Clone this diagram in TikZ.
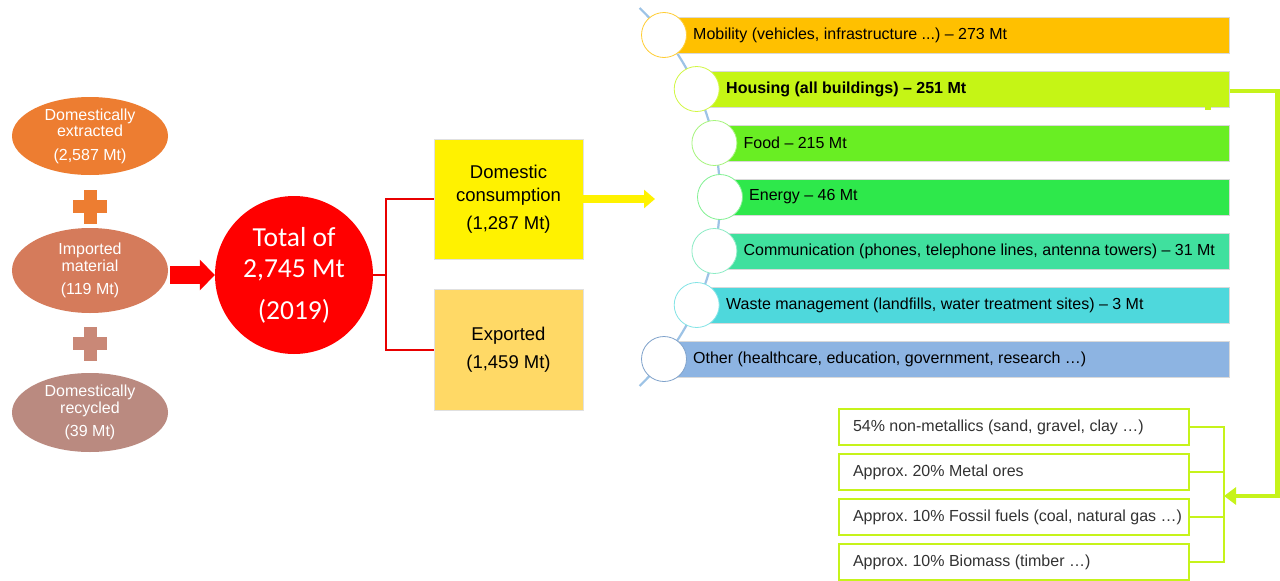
\documentclass[tikz,border=0pt]{standalone}
\usepackage{fontspec}
\setmainfont{Liberation Sans}
\newfontfamily\calibri{Carlito}
\usetikzlibrary{shapes.geometric,arrows.meta,calc}
\frenchspacing

% source colours
\definecolor{cExtract}{HTML}{ED7D31}
\definecolor{cImport}{HTML}{D57B5B}
\definecolor{cRecycle}{HTML}{BA8A80}
\definecolor{cPlusA}{HTML}{ED7D31}
\definecolor{cPlusB}{HTML}{C98877}
\definecolor{cRedLine}{HTML}{E80000}
\definecolor{cExport}{HTML}{FFD966}
% sector colours
\definecolor{cMob}{HTML}{FFC000}
\definecolor{cHouse}{HTML}{C5F515}
\definecolor{cFood}{HTML}{69EE23}
\definecolor{cEnergy}{HTML}{2EE84B}
\definecolor{cComm}{HTML}{40E09E}
\definecolor{cWaste}{HTML}{4ED8DC}
\definecolor{cOther}{HTML}{8DB4E2}
\definecolor{cArc}{HTML}{9DC3E6}
\definecolor{cLime}{HTML}{C6F31A}

% fixed-width left-aligned line inside the composition boxes
\newcommand{\boxline}[1]{\makebox[322pt][l]{#1}}

\begin{document}
\begin{tikzpicture}[x=1pt,y=-1pt,
  srcell/.style={ellipse, inner sep=0pt, minimum width=156pt, text=white,
    align=center, font=\fontsize{16}{16.5}\selectfont},
  outbox/.style={rectangle, draw=black!12, line width=0.6pt, minimum width=149pt,
    align=center, font=\fontsize{18.5}{23}\selectfont},
  redline/.style={draw=cRedLine, line width=2pt},
  bar/.style={rectangle, anchor=west, minimum height=36pt, draw=black!15,
    line width=0.6pt, inner sep=0pt},
  dot/.style={circle, minimum size=45pt, inner sep=0pt, fill=white, line width=0.8pt},
  barlabel/.style={anchor=west, inner sep=0pt, font=\fontsize{16}{16}\selectfont, text=black},
  matbox/.style={rectangle, draw=cLime, line width=1.8pt, fill=white,
    minimum width=350pt, minimum height=36pt, inner xsep=14pt,
    inner ysep=0pt, font=\fontsize{16}{16}\selectfont, text=black!80},
  gline/.style={draw=cLime, line width=1.6pt},
  garrow/.style={draw=cLime, line width=4.5pt, line join=miter,
    -{Triangle[length=12pt,width=17pt]}},
  arcline/.style={draw=cArc, line width=2.2pt}
]
\useasboundingbox (0,0) rectangle (1280,581);
\fill[white] (0,0) rectangle (1280,581);

% ---- material sources ----
\node[srcell, fill=cExtract, minimum height=78pt] (ext) at (90,136)
  {Domestically\\extracted\\[7pt](2,587 Mt)};
\node[srcell, fill=cImport, minimum height=85pt] (imp) at (90,270.5)
  {Imported\\material\\[7pt](119 Mt)};
\node[srcell, fill=cRecycle, minimum height=79pt] (rec) at (90,412.5)
  {Domestically\\recycled\\[7pt](39 Mt)};

% plus signs between the sources
\fill[cPlusA] (90,206.5) +(-17,-6.5) rectangle +(17,6.5);
\fill[cPlusA] (90,206.5) +(-6.5,-17) rectangle +(6.5,17);
\fill[cPlusB] (90,343.5) +(-17,-6.5) rectangle +(17,6.5);
\fill[cPlusB] (90,343.5) +(-6.5,-17) rectangle +(6.5,17);

% ---- total ----
\node[circle, fill=red, minimum size=158pt, inner sep=0pt, text=white, align=center,
  font=\calibri\fontsize{27.5}{31}\selectfont] (total) at (294,275)
  {Total of\\2,745 Mt\\[11pt](2019)};

\draw[red, line width=18pt, -{Triangle[length=15pt,width=30pt]}]
  ([xshift=2pt]imp.east |- total.west) -- (total.west);

% ---- split ----
\node[outbox, fill=yellow, minimum height=120pt] (dom) at (508.5,199)
  {Domestic\\consumption\\[5pt](1,287 Mt)};
\node[outbox, fill=cExport, minimum height=121pt] (exp) at (508.5,349.5)
  {Exported\\[5pt](1,459 Mt)};

\draw[redline] (total.east) -- ++(13,0) coordinate (rj) |- (dom.west);
\draw[redline] (rj) |- (exp.west);

\coordinate (ytip) at (655,199);
\draw[yellow, line width=8pt, -{Triangle[length=11pt,width=18pt]}] (dom.east) -- (ytip);

% ---- sectors ----
\coordinate (ac) at (457.7,197);
\draw[arcline] ([shift={(46.1:262.3pt)}]ac) arc[start angle=46.1, end angle=-46.1, radius=262.3pt];

\node[bar, fill=cMob, minimum width=565pt] (bar1) at (664,35) {};
\node[bar, fill=cHouse, minimum width=532.3pt] (bar2) at (696.7,89) {};
\node[bar, fill=cFood, minimum width=514.6pt] (bar3) at (714.4,143) {};
\node[bar, fill=cEnergy, minimum width=509pt] (bar4) at (720,197) {};
\node[bar, fill=cComm, minimum width=514.6pt] (bar5) at (714.4,251) {};
\node[bar, fill=cWaste, minimum width=532.3pt] (bar6) at (696.7,305) {};
\node[bar, fill=cOther, minimum width=565pt] (bar7) at (664,359) {};

\node[dot, draw=cMob!80!white] (dot1) at (664,35) {};
\node[dot, draw=cHouse!80!white] (dot2) at (696.7,89) {};
\node[dot, draw=cFood!60!white] (dot3) at (714.4,143) {};
\node[dot, draw=cEnergy!60!white] (dot4) at (720,197) {};
\node[dot, draw=cComm!60!white] (dot5) at (714.4,251) {};
\node[dot, draw=cWaste!70!white] (dot6) at (696.7,305) {};
\node[dot, draw=cOther!90!black] (dot7) at (664,359) {};

\node[barlabel] (lab1) at (693,35) {Mobility (vehicles, infrastructure ...) – 273 Mt};
\node[barlabel, font=\fontsize{16}{16}\selectfont\bfseries] (lab2) at (726,89) {Housing (all buildings) – 251 Mt};
\node[barlabel] (lab3) at (743.4,143) {Food – 215 Mt};
\node[barlabel] (lab4) at (749,197) {Energy – 46 Mt};
\node[barlabel] (lab5) at (743.4,251) {Communication (phones, telephone lines, antenna towers) – 31 Mt};
\node[barlabel] (lab6) at (726,305) {Waste management (landfills, water treatment sites) – 3 Mt};
\node[barlabel] (lab7) at (693,359) {Other (healthcare, education, government, research …)};

\fill[cHouse] (1205,106) rectangle (1211,110);

% ---- material composition of housing ----
\node[matbox] (m1) at (1014,427) {\boxline{54\% non-metallics (sand, gravel, clay …)}};
\node[matbox] (m2) at (1014,472) {\boxline{Approx. 20\% Metal ores}};
\node[matbox] (m3) at (1014,517) {\boxline{Approx. 10\% Fossil fuels (coal, natural gas …)}};
\node[matbox] (m4) at (1014,562) {\boxline{Approx. 10\% Biomass (timber …)}};

\draw[gline] (m1.east) -- ++(34,0) coordinate (j1);
\draw[gline] (m2.east) -- ++(34,0);
\draw[gline] (m3.east) -- ++(34,0);
\draw[gline] (m4.east) -- ++(34,0) coordinate (j4);
\draw[gline, line cap=rect] (j1) -- (j4);

\coordinate (gtip) at (1224,496);
\draw[garrow] ([yshift=-2pt]bar2.east) -- ++(48,0) |- (gtip);
\end{tikzpicture}
\end{document}
